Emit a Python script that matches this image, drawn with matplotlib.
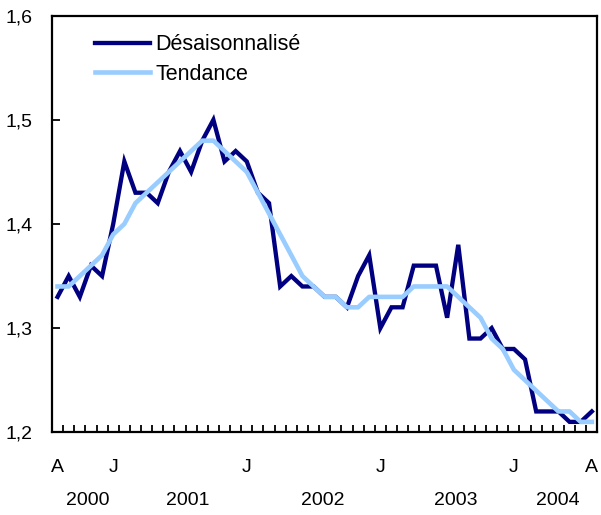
import numpy as np
import matplotlib
matplotlib.use("Agg")
import matplotlib.pyplot as plt
from matplotlib.ticker import FuncFormatter

plt.rcParams['font.family'] = ['Liberation Sans', 'DejaVu Sans']

# monthly, Aug 2000 -> Aug 2004
desais = [1.33, 1.35, 1.33, 1.36, 1.35, 1.40, 1.46, 1.43, 1.43, 1.42,
          1.45, 1.47, 1.45, 1.48, 1.50, 1.46, 1.47, 1.46, 1.43, 1.42,
          1.34, 1.35, 1.34, 1.34, 1.33, 1.33, 1.32, 1.35, 1.37, 1.30,
          1.32, 1.32, 1.36, 1.36, 1.36, 1.31, 1.38, 1.29, 1.29, 1.30,
          1.28, 1.28, 1.27, 1.22, 1.22, 1.22, 1.21, 1.21, 1.22]
tendance = [1.34, 1.34, 1.35, 1.36, 1.37, 1.39, 1.40, 1.42, 1.43, 1.44,
            1.45, 1.46, 1.47, 1.48, 1.48, 1.47, 1.46, 1.45, 1.43, 1.41,
            1.39, 1.37, 1.35, 1.34, 1.33, 1.33, 1.32, 1.32, 1.33, 1.33,
            1.33, 1.33, 1.34, 1.34, 1.34, 1.34, 1.33, 1.32, 1.31, 1.29,
            1.28, 1.26, 1.25, 1.24, 1.23, 1.22, 1.22, 1.21, 1.21]

month_pos = [0, 5, 17, 29, 41, 48]
month_labels = ['A', 'J', 'J', 'J', 'J', 'A']
years = ['2000', '2001', '2002', '2003', '2004']
year_pos = [2.7, 11.7, 23.8, 35.8, 44.9]

fig = plt.figure(figsize=(6.01, 5.15), dpi=100)
ax = fig.add_axes([0.0865, 0.1606, 0.9075, 0.809])

x = np.arange(len(desais))
ax.plot(x, desais, color='#000080', lw=3.1, label='Désaisonnalisé', solid_joinstyle='miter')
ax.plot(x, tendance, color='#99ccff', lw=3.3, label='Tendance')

ax.set_xlim(-0.5, len(desais) - 0.5)
ax.set_ylim(1.2, 1.6)
ax.set_yticks([1.2, 1.3, 1.4, 1.5, 1.6])
ax.yaxis.set_major_formatter(FuncFormatter(lambda v, p: ('%.1f' % v).replace('.', ',')))
ax.tick_params(axis='y', direction='in', length=6, width=1.3, labelsize=14, pad=14)

ax.set_xticks(month_pos)
ax.set_xticklabels(month_labels)
ax.set_xticks(np.arange(0.5, len(desais) - 1, 1), minor=True)
ax.tick_params(axis='x', which='major', length=0, labelsize=14, pad=19)
ax.tick_params(axis='x', which='minor', direction='in', length=5, width=1.3)

for yr, p in zip(years, year_pos):
    ax.text(p, -0.163, yr, transform=ax.get_xaxis_transform(), ha='center', va='center', fontsize=14)

for s in ax.spines.values():
    s.set_linewidth(1.6)

ax.legend(loc='upper left', bbox_to_anchor=(0.079, 0.955), frameon=False, fontsize=15.5,
          handlelength=2.55, handletextpad=0.25, labelspacing=0.38, borderaxespad=0,
          borderpad=0)

plt.savefig('out.png', dpi=100)
